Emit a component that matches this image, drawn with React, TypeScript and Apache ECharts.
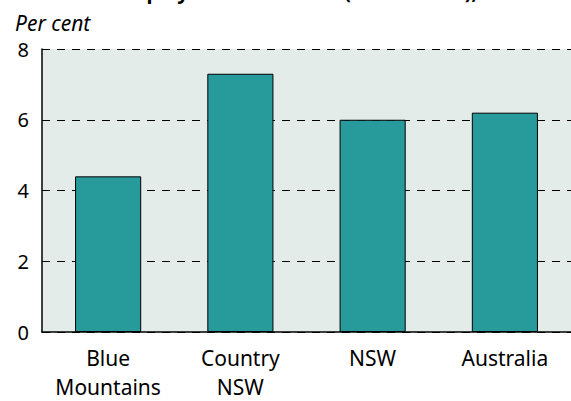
import React, { useEffect, useRef } from "react";
import * as echarts from "echarts";

const categories = ["Blue\nMountains", "Country\nNSW", "NSW", "Australia"];
const values = [4.4, 7.3, 6.0, 6.2];
const yTicks = [0, 2, 4, 6, 8];
const unitLabel = "Per cent";
const titleText = "Unemployment rate 2001 (March 2001),";

const FONT = "'Noto Sans', sans-serif";

export default function App() {
  const ref = useRef<HTMLDivElement>(null);
  useEffect(() => {
    document.body.style.margin = "0";
    const chart = echarts.init(ref.current!, null, { renderer: "svg" });
    chart.setOption({
      animation: false,
      backgroundColor: "#ffffff",
      textStyle: { fontFamily: FONT },
      grid: {
        left: 42,
        top: 49,
        width: 532,
        height: 288,
        show: true,
        backgroundColor: "#e4ece9",
        borderWidth: 0,
      },
      graphic: [
        {
          type: "text",
          x: 282,
          y: 1,
          style: {
            text: titleText,
            font: `bold 20px ${FONT}`,
            fill: "#000",
            align: "center",
            verticalAlign: "bottom",
          },
        },
        {
          type: "text",
          x: 15,
          y: 23,
          style: {
            text: unitLabel,
            font: `italic 21px ${FONT}`,
            fill: "#000",
            align: "left",
            verticalAlign: "middle",
          },
        },
      ],
      xAxis: {
        type: "category",
        data: categories,
        axisLine: { show: true, lineStyle: { color: "#000", width: 1.5 } },
        axisTick: { show: false },
        axisLabel: {
          color: "#000",
          fontSize: 21,
          lineHeight: 29,
          margin: 11,
          interval: 0,
          fontFamily: FONT,
        },
      },
      yAxis: {
        type: "value",
        min: 0,
        max: 8,
        interval: 2,
        axisLine: { show: true, lineStyle: { color: "#000", width: 1.5 } },
        axisTick: { show: false },
        axisLabel: {
          color: "#000",
          fontSize: 20,
          margin: 13,
          fontFamily: FONT,
          formatter: (v: number) => (yTicks.includes(v) ? String(v) : ""),
        },
        splitLine: {
          show: true,
          lineStyle: { color: "#000", type: [8, 7], width: 1 },
        },
      },
      series: [
        {
          type: "bar",
          data: values,
          barWidth: "50%",
          itemStyle: { color: "#279b9b", borderColor: "#000", borderWidth: 1 },
        },
      ],
    });
    return () => chart.dispose();
  }, []);
  return <div ref={ref} style={{ width: 571, height: 401 }} />;
}
